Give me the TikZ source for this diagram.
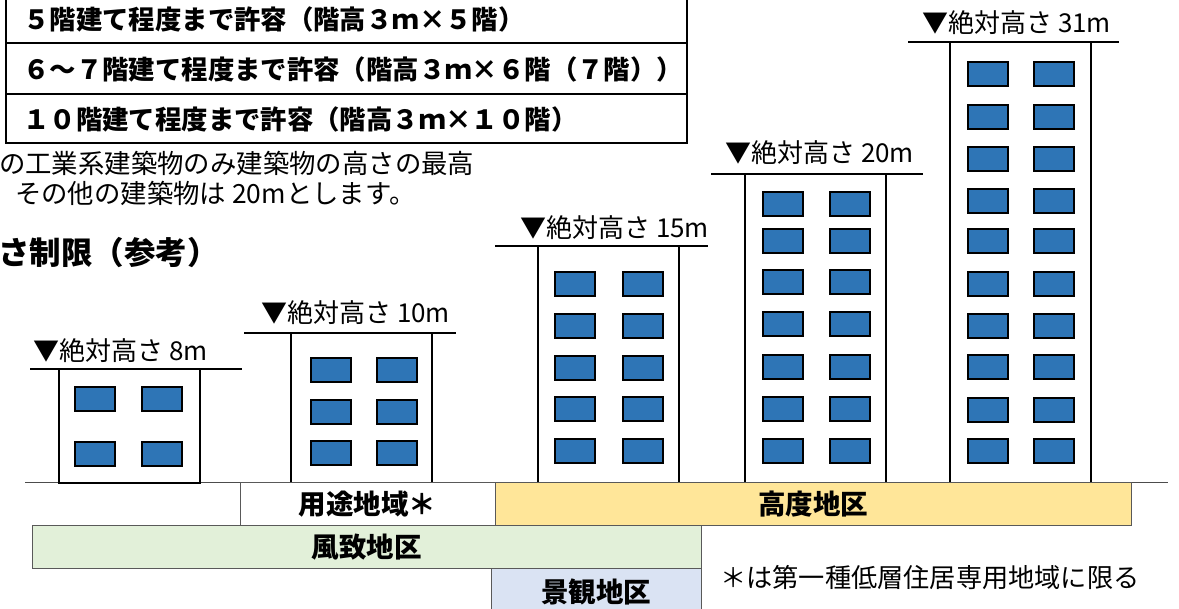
\documentclass[tikz,border=0pt]{standalone}
\usepackage{fontspec}
\newfontfamily\jp{Noto Sans CJK JP}
\definecolor{winblue}{HTML}{2E75B6}
\definecolor{kodofill}{HTML}{FFE699}
\definecolor{fuchifill}{HTML}{E2F0D9}
\definecolor{keikanfill}{HTML}{DAE3F3}
\definecolor{zoneline}{HTML}{595959}

\tikzset{
  tbl/.style={draw=black, line width=1.6pt},
  rowtxt/.style={anchor=west, inner sep=0pt, font=\jp\bfseries\fontsize{26.4}{28}\selectfont},
  bodytxt/.style={anchor=west, inner sep=0pt, font=\jp\fontsize{26.4}{28}\selectfont},
  headtxt/.style={anchor=west, inner sep=0pt, font=\jp\bfseries\fontsize{31.5}{33}\selectfont},
  bldg/.style={draw=black, fill=white, line width=2.4pt},
  roof/.style={draw=black, line width=2.2pt},
  win/.style={draw=black, fill=winblue, line width=1.8pt},
  hlabel/.style={anchor=base west, inner sep=0pt, font=\jp\fontsize{26}{28}\selectfont},
  ground/.style={draw=black!70, line width=1pt},
  zone/.style={draw=zoneline, line width=1pt, inner sep=0pt, font=\jp\bfseries\fontsize{27.5}{29}\selectfont},
  note/.style={anchor=west, inner sep=0pt, font=\jp\fontsize{26.2}{28}\selectfont}
}

% one window, given by its top-left corner
\newcommand{\windowat}[2]{\draw[win] (#1,#2) rectangle ++(40,24);}

\begin{document}
\begin{tikzpicture}[x=1pt,y=-1pt]
\useasboundingbox (0,0) rectangle (1179,609);
\clip (0,0) rectangle (1179,609);
\fill[white] (0,0) rectangle (1179,609);

% ---- allowance table ----
\draw[tbl] (6,-12) rectangle (687,143);
\draw[tbl] (6,43) -- (687,43);
\draw[tbl] (6,94) -- (687,94);
\node[rowtxt] (row1) at (23,19) {５階建て程度まで許容（階高３ｍ×５階）};
\node[rowtxt] (row2) at (23,69) {６～７階建て程度まで許容（階高３ｍ×６階（７階））};
\node[rowtxt] (row3) at (23,119) {１０階建て程度まで許容（階高３ｍ×１０階）};

% ---- explanatory text ----
\node[bodytxt] (expl1) at (-1,163) {の工業系建築物のみ建築物の高さの最高};
\node[bodytxt] (expl2) at (15,193) {その他の建築物は 20mとします。};
\node[headtxt] (head) at (-2,253) {さ制限（参考）};

% ---- ground ----
\draw[ground] (25,483) -- (1168,483);

% ---- buildings ----
% 8m
\draw[roof] (30,369) -- (242,369);
\draw[bldg] (59,369) rectangle (200,483);
\foreach \y in {387,442} { \windowat{75}{\y} \windowat{142}{\y} }
\node[hlabel] (h8) at (33,361) {▼絶対高さ 8m};

% 10m
\draw[roof] (244,333) -- (456,333);
\draw[bldg] (291,333) rectangle (432,483);
\foreach \y in {358,400,441} { \windowat{311}{\y} \windowat{377}{\y} }
\node[hlabel] (h10) at (261,323) {▼絶対高さ 10m};

% 15m
\draw[roof] (495,246) -- (708,246);
\draw[bldg] (538,246) rectangle (679,483);
\foreach \y in {272,314,356,397,439} { \windowat{555}{\y} \windowat{623}{\y} }
\node[hlabel] (h15) at (520,238) {▼絶対高さ 15m};

% 20m
\draw[roof] (711,174) -- (923,174);
\draw[bldg] (745,174) rectangle (886,483);
\foreach \y in {192,229,270,312,355,397,439} { \windowat{763}{\y} \windowat{830}{\y} }
\node[hlabel] (h20) at (725,163) {▼絶対高さ 20m};

% 31m
\draw[roof] (908,42) -- (1119,42);
\draw[bldg] (950,42) rectangle (1091,483);
\foreach \y in {62,105,147,189,229,272,314,355,398,439} { \windowat{968}{\y} \windowat{1034}{\y} }
\node[hlabel] (h31) at (922,33) {▼絶対高さ 31m};

% ---- applicable zones ----
\node[zone, fill=white, minimum width=255pt, minimum height=43pt] (yoto) at (367.5,504.5) {用途地域＊};
\node[zone, fill=kodofill, minimum width=636pt, minimum height=43pt] (kodo) at (813,504.5) {高度地区};
\node[zone, fill=fuchifill, minimum width=669pt, minimum height=42pt] (fuchi) at (366.5,547) {風致地区};
\node[zone, fill=keikanfill, minimum width=210pt, minimum height=50pt] (keikan) at (596,593) {};
\node[zone, draw=none, fill=none] (keikantxt) at (596,592) {景観地区};
\node[note] (fn) at (720,578) {＊は第一種低層住居専用地域に限る};
\end{tikzpicture}
\end{document}
